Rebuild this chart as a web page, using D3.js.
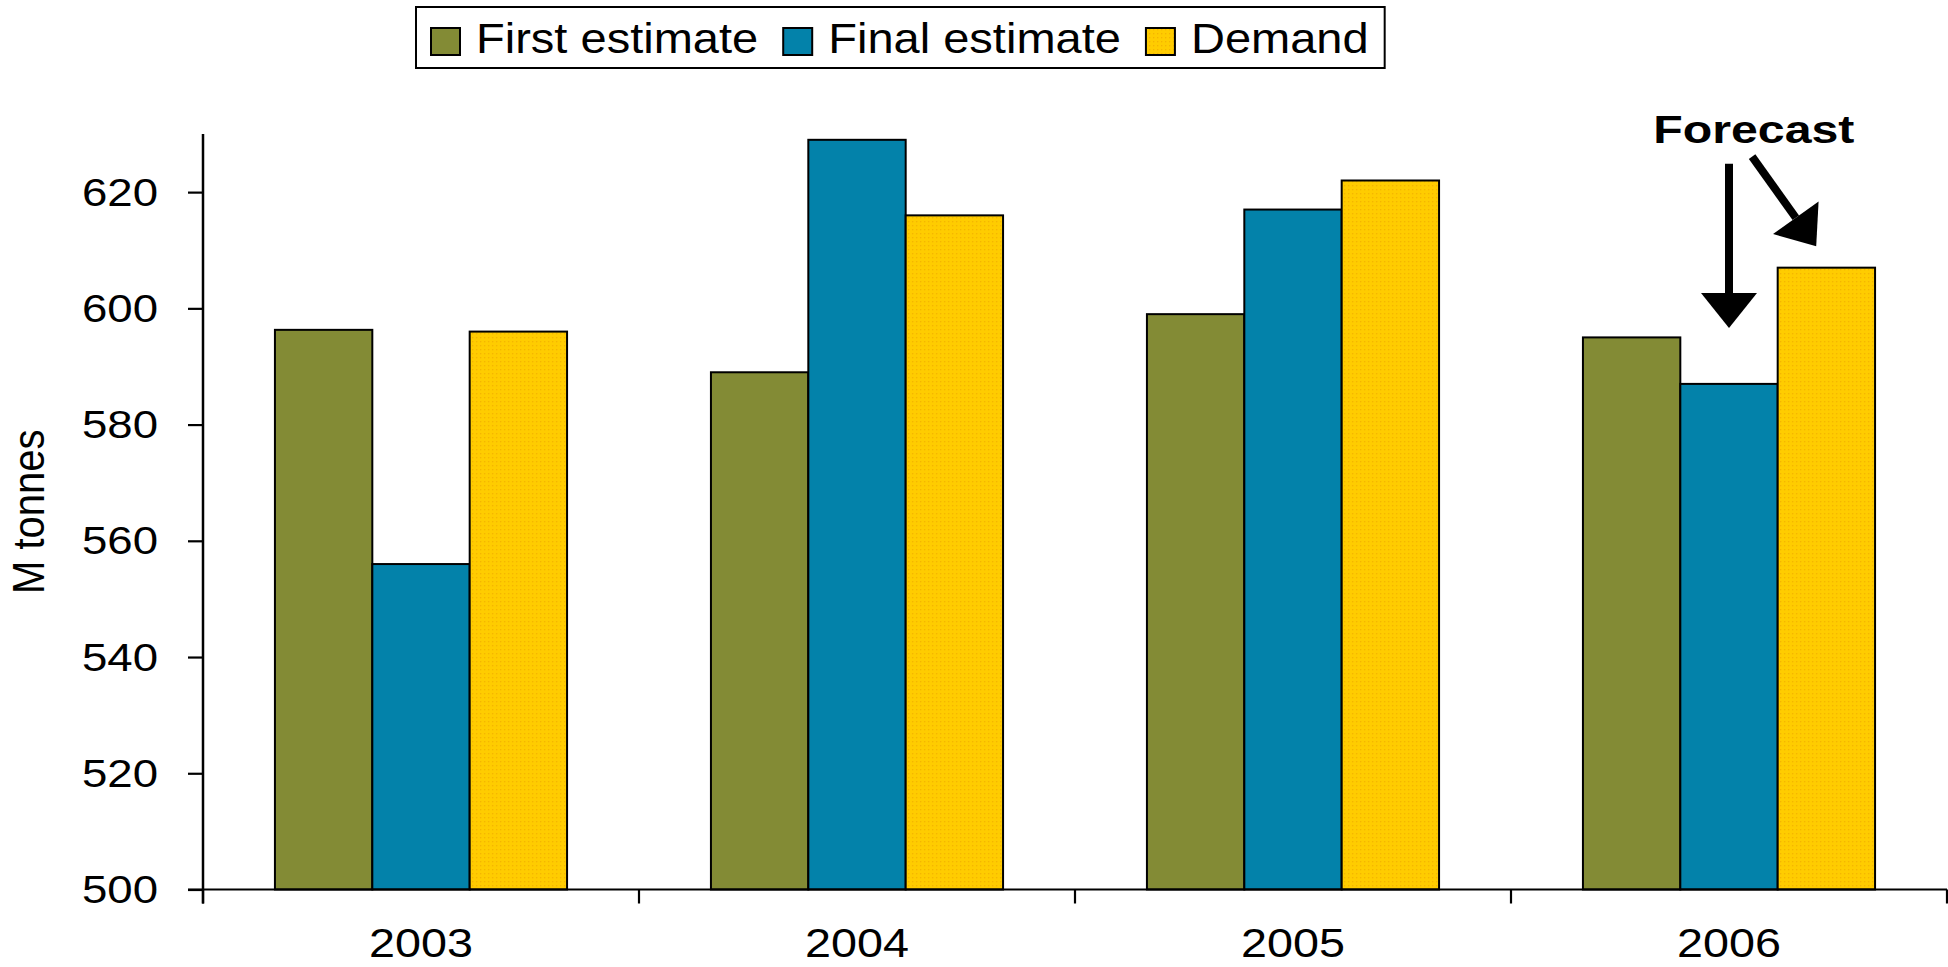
<!DOCTYPE html>
<html>
<head>
<meta charset="utf-8">
<script src="https://cdn.jsdelivr.net/npm/d3@7"></script>
<style>
  html, body { margin: 0; padding: 0; background: #fff; }
  svg { display: block; }
  text { font-family: "Liberation Sans", Arial, sans-serif; fill: #000; }
</style>
</head>
<body>
<svg id="chart" width="1948" height="967"></svg>
<script>
// World production estimates vs demand, million tonnes
const years = ["2003", "2004", "2005", "2006"];
const seriesNames = ["First estimate", "Final estimate", "Demand"];
const firstEstimate = [596.3, 589, 599, 595];
const finalEstimate = [556, 629, 617, 587];
const demand = [596, 616, 622, 607];
const yTicks = [500, 520, 540, 560, 580, 600, 620];
const yLabel = "M tonnes";
const forecastLabel = "Forecast";

const colors = ["#838b35", "#0382aa", "#ffcc00"];
const SX = 1.12; // horizontal text stretch

const svg = d3.select("#chart");
const plotLeft = 203, plotRight = 1947, plotTop = 134, plotBottom = 889.5;

const x = d3.scaleBand().domain(years).range([plotLeft, plotRight])
  .paddingInner(0.33).paddingOuter(0.165);
const x1 = d3.scaleBand().domain(seriesNames).range([0, x.bandwidth()]);
const y = d3.scaleLinear().domain([500, 630]).range([plotBottom, plotTop]);

// dotted texture for the demand bars
const defs = svg.append("defs");
const pat = defs.append("pattern").attr("id", "dots")
  .attr("width", 4).attr("height", 4).attr("patternUnits", "userSpaceOnUse");
pat.append("rect").attr("width", 4).attr("height", 4).attr("fill", "#ffcc00");
pat.append("rect").attr("x", 1).attr("y", 1).attr("width", 1.3).attr("height", 1.3).attr("fill", "#f5b400");

const fills = [colors[0], colors[1], "url(#dots)"];

const rows = years.map((yr, i) => ({
  year: yr,
  values: [firstEstimate[i], finalEstimate[i], demand[i]]
}));

// bars
const groups = svg.append("g").selectAll("g").data(rows).join("g")
  .attr("transform", d => `translate(${x(d.year)},0)`);
groups.selectAll("rect")
  .data(d => d.values.map((v, k) => ({ k, v })))
  .join("rect")
  .attr("x", d => x1(seriesNames[d.k]))
  .attr("y", d => y(d.v))
  .attr("width", x1.bandwidth())
  .attr("height", d => y(500) - y(d.v))
  .attr("fill", d => fills[d.k])
  .attr("stroke", "#000")
  .attr("stroke-width", 2);

// helper for stretched text
function stretched(sel, tx, ty, sx = SX) {
  sel.attr("transform", `translate(${tx},${ty}) scale(${sx},1)`);
}

// y axis
const yAxis = svg.append("g").attr("transform", `translate(${plotLeft},0)`)
  .call(d3.axisLeft(y).tickValues(yTicks).tickSize(15).tickPadding(0).tickFormat(d3.format("d")));
yAxis.select(".domain").remove();
yAxis.selectAll(".tick line").attr("stroke", "#000").attr("stroke-width", 2.2);
yAxis.selectAll(".tick text")
  .attr("x", 0).attr("dy", null).attr("dominant-baseline", "central")
  .attr("font-size", 38).attr("text-anchor", "end")
  .attr("font-family", "'Liberation Sans', Arial, sans-serif")
  .attr("fill", "#000")
  .attr("transform", `translate(-45,0) scale(1.2,1)`);
svg.append("line").attr("x1", plotLeft).attr("x2", plotLeft).attr("y1", plotTop).attr("y2", plotBottom + 14)
  .attr("stroke", "#000").attr("stroke-width", 2.5);

// x axis
svg.append("line").attr("x1", plotLeft - 15).attr("x2", plotRight).attr("y1", plotBottom).attr("y2", plotBottom)
  .attr("stroke", "#000").attr("stroke-width", 2.2);
const bounds = years.map(d => x(d) - x.step() * x.paddingOuter()).concat([plotRight]);
svg.append("g").selectAll("line").data(bounds).join("line")
  .attr("x1", d => d).attr("x2", d => d).attr("y1", plotBottom).attr("y2", plotBottom + 14)
  .attr("stroke", "#000").attr("stroke-width", 2.2);
svg.append("g").selectAll("text").data(years).join("text")
  .attr("text-anchor", "middle").attr("font-size", 41)
  .text(d => d)
  .each(function (d) { stretched(d3.select(this), x(d) + x.bandwidth() / 2, 957, 1.14); });

// y axis title
svg.append("text").attr("text-anchor", "middle").attr("font-size", 40)
  .attr("transform", `translate(44,${(y(500) + y(630)) / 2}) rotate(-90) scale(1,${SX})`)
  .text(yLabel);

// legend
const lg = svg.append("g");
const legBox = lg.append("rect").attr("y", 7).attr("height", 61)
  .attr("fill", "#fff").attr("stroke", "#000").attr("stroke-width", 2);
let cx = 431;
seriesNames.forEach((name, k) => {
  lg.append("rect").attr("x", cx).attr("y", 28).attr("width", 29).attr("height", 27)
    .attr("fill", fills[k]).attr("stroke", "#000").attr("stroke-width", 2);
  const t = lg.append("text").attr("font-size", 42).text(name);
  stretched(t, cx + 45, 53);
  const w = t.node().getComputedTextLength() * SX;
  cx = cx + 45 + w + 25;
});
legBox.attr("x", 416).attr("width", cx - 25 + 16 - 416);

// forecast annotation, placed in data units within the 2006 band
const fYear = "2006";
const bx = f => x(fYear) - x.step() * x.paddingOuter() + f * x.step();
const ft = svg.append("text").attr("font-size", 38).attr("font-weight", "bold")
  .attr("text-anchor", "middle").text(forecastLabel);
stretched(ft, bx(0.557), y(628.4), 1.27);

function arrow(x0, y0, x1p, y1p) {
  const dx = x1p - x0, dy = y1p - y0, L = Math.hypot(dx, dy);
  const ux = dx / L, uy = dy / L, px = -uy, py = ux;
  const hl = 35, hw = 28;
  const bxm = x1p - ux * hl, bym = y1p - uy * hl;
  svg.append("line").attr("x1", x0).attr("y1", y0).attr("x2", bxm).attr("y2", bym)
    .attr("stroke", "#000").attr("stroke-width", 8);
  svg.append("path")
    .attr("d", `M${x1p},${y1p}L${bxm + px * hw},${bym + py * hw}L${bxm - px * hw},${bym - py * hw}Z`)
    .attr("fill", "#000");
}
const finalX = x(fYear) + x1("Final estimate") + x1.bandwidth() / 2;
arrow(finalX, y(624.9), finalX, y(596.6));
arrow(bx(0.553), y(626.1), bx(0.7), y(610.7));
</script>
</body>
</html>
